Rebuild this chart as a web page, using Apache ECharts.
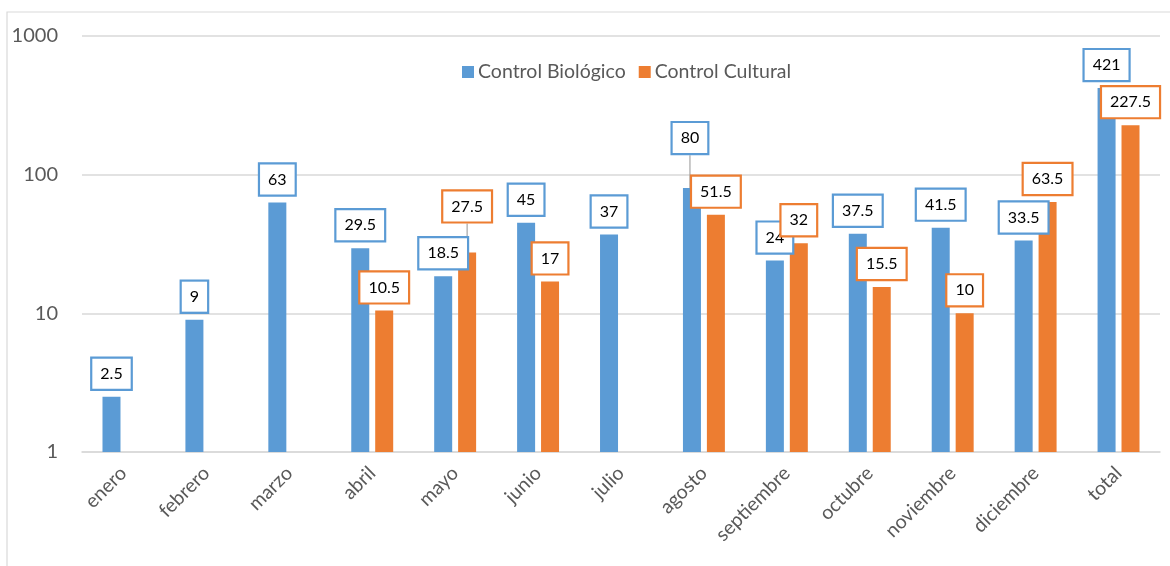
<!DOCTYPE html>
<html>
<head>
<meta charset="utf-8">
<script src="https://cdn.jsdelivr.net/npm/echarts@6/dist/echarts.min.js"></script>
<style>
html,body{margin:0;padding:0;background:#fff;}
#c{width:1170px;height:566px;}
</style>
</head>
<body>
<div id="c"></div>
<script>
const categories = ['enero','febrero','marzo','abril','mayo','junio','julio','agosto','septiembre','octubre','noviembre','diciembre','total'];
const biologico = [2.5, 9, 63, 29.5, 18.5, 45, 37, 80, 24, 37.5, 41.5, 33.5, 421];
const cultural = [null, null, null, 10.5, 27.5, 17, null, 51.5, 32, 15.5, 10, 63.5, 227.5];
const yTicks = [1, 10, 100, 1000];

const FONT = 'Lato';
const BLUE = '#5B9BD5';
const ORANGE = '#ED7D31';

// manually moved labels (as in the reference): [seriesIndex, dataIndex, dx, dy]
const moved = [[0, 7, -2, -27], [1, 4, 0, -23]];

function labelCfg(color) {
  return {
    show: true,
    position: 'top',
    distance: 8,
    color: '#000',
    fontFamily: FONT,
    fontSize: 16,
    lineHeight: 18,
    backgroundColor: '#fff',
    borderColor: color,
    borderWidth: 2.2,
    padding: [6, 8, 6, 8]
  };
}

function withLines(arr, sIdx) {
  return arr.map((v, i) => {
    const m = moved.find(x => x[0] === sIdx && x[1] === i);
    if (m) return { value: v, labelLine: { show: true, lineStyle: { color: '#A6A6A6', width: 1.2 } } };
    return v;
  });
}

const chart = echarts.init(document.getElementById('c'));
chart.setOption({
  backgroundColor: '#fff',
  animation: false,
  graphic: [{
    type: 'rect',
    shape: { x: 7, y: 12, width: 1300, height: 700 },
    style: { fill: 'none', stroke: '#D9D9D9', lineWidth: 1.2 },
    silent: true
  }],
  legend: {
    data: ['Control Biológico', 'Control Cultural'],
    top: 57,
    left: 457,
    icon: 'rect',
    itemWidth: 12,
    itemHeight: 12,
    itemGap: 13,
    itemStyle: { borderWidth: 0 },
    textStyle: { color: '#595959', fontFamily: FONT, fontSize: 19.5, padding: [0, 0, 0, -1] }
  },
  grid: { left: 82, right: 10, top: 36, bottom: 114, containLabel: false },
  xAxis: {
    type: 'category',
    data: categories,
    axisTick: { show: false },
    axisLine: { lineStyle: { color: '#D9D9D9', width: 1.6 } },
    axisLabel: { rotate: 45, color: '#595959', fontFamily: FONT, fontSize: 19.5, margin: 18, interval: 0 }
  },
  yAxis: {
    type: 'log',
    logBase: 10,
    min: yTicks[0],
    max: yTicks[yTicks.length - 1],
    axisLine: { show: false },
    axisTick: { show: false },
    splitLine: { lineStyle: { color: '#D9D9D9', width: 1.6 } },
    axisLabel: { color: '#595959', fontFamily: FONT, fontSize: 20, margin: 24, formatter: v => String(v) }
  },
  series: [
    {
      name: 'Control Biológico',
      type: 'bar',
      data: withLines(biologico, 0),
      barWidth: 18,
      barGap: '33%',
      itemStyle: { color: BLUE },
      label: labelCfg(BLUE),
      labelLayout: function (p) {
        const m = moved.find(x => x[0] === 0 && x[1] === p.dataIndex);
        return m ? { dx: m[2], dy: m[3] } : {};
      }
    },
    {
      name: 'Control Cultural',
      type: 'bar',
      data: withLines(cultural, 1),
      barWidth: 18,
      barGap: '33%',
      itemStyle: { color: ORANGE },
      label: labelCfg(ORANGE),
      labelLayout: function (p) {
        const m = moved.find(x => x[0] === 1 && x[1] === p.dataIndex);
        return m ? { dx: m[2], dy: m[3] } : {};
      }
    }
  ]
});
</script>
</body>
</html>
